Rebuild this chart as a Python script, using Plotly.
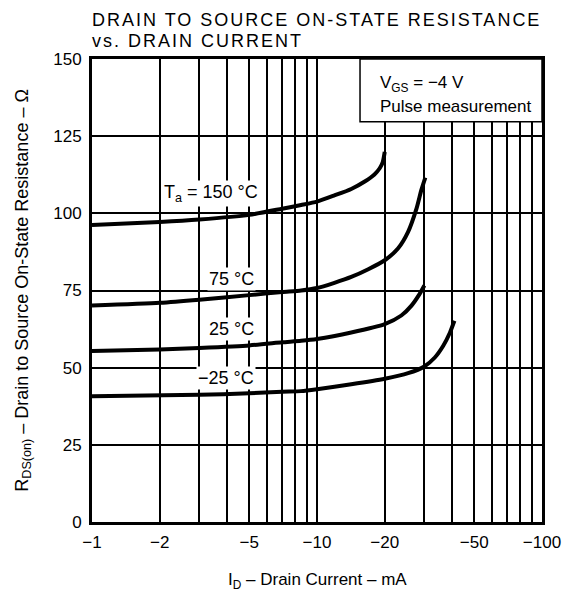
import plotly.graph_objects as go

# ---- data ----
id_150 = [1, 2, 3, 5, 7, 8.5, 10, 11.95, 14.2, 16.3, 18.0, 19.0, 19.6, 20]
r_150 = [96.2, 97.2, 98.0, 99.5, 101.5, 102.7, 103.8, 105.8, 107.9, 110.3, 112.6, 114.6, 116.6, 119.9]

id_75 = [1, 2, 3, 5, 7, 8.5, 10, 11.95, 14.2, 16.9, 20, 22.9, 25.4, 27.7, 29.1, 30.3]
r_75 = [70.1, 71.0, 72.0, 73.5, 74.5, 75.0, 75.8, 77.5, 79.4, 81.9, 84.8, 88.6, 94.0, 101.6, 107.6, 111.6]

id_25 = [1, 2, 3, 5, 7, 8.5, 10, 14.2, 20, 23.7, 26.3, 28.6, 30]
r_25 = [55.4, 55.9, 56.4, 57.2, 58.2, 58.7, 59.3, 61.4, 64.1, 66.9, 70.1, 73.9, 76.6]

id_m25 = [1, 3, 5, 7, 8.5, 10, 14.2, 20, 25.4, 30, 33.4, 36.4, 39, 40.8]
r_m25 = [40.7, 41.2, 41.7, 42.2, 42.4, 43.0, 44.6, 46.4, 48.2, 50.4, 53.3, 57.1, 61.4, 65.2]

x_tickvals = [1, 2, 3, 4, 5, 6, 7, 8, 9, 10, 20, 30, 40, 50, 60, 70, 80, 90, 100]
x_ticktext = ["−1", "−2", "", "", "−5", "", "", "", "", "−10", "−20", "", "",
              "−50", "", "", "", "", "−100"]
y_tickvals = [0, 25, 50, 75, 100, 125, 150]

FONT = "Liberation Sans, Arial, sans-serif"

fig = go.Figure()
for xs, ys in [(id_150, r_150), (id_75, r_75), (id_25, r_25), (id_m25, r_m25)]:
    fig.add_trace(go.Scatter(x=xs, y=ys, mode="lines",
                             line=dict(color="black", width=4, shape="spline", smoothing=0.6),
                             showlegend=False, hoverinfo="skip"))

# the page body has an 8px margin, so the figure is 8px smaller
fig.update_layout(
    width=567, height=589,
    margin=dict(l=84, r=33, t=51, b=75),
    paper_bgcolor="white", plot_bgcolor="white",
    font=dict(family=FONT, color="black", size=17),
    showlegend=False,
)

fig.update_xaxes(
    type="log", range=[0, 2],
    tickmode="array", tickvals=x_tickvals, ticktext=x_ticktext,
    showgrid=True, gridcolor="black", gridwidth=1.5,
    showline=True, linecolor="black", linewidth=3, mirror=True,
    ticks="", ticklabelstandoff=3, tickfont=dict(size=17),
    zeroline=False,
)
fig.update_yaxes(
    range=[0, 150],
    tickmode="array", tickvals=y_tickvals,
    showgrid=True, gridcolor="black", gridwidth=1.5,
    showline=True, linecolor="black", linewidth=3, mirror=True,
    ticks="", ticklabelstandoff=4, tickfont=dict(size=17),
    zeroline=False,
)

# condition box
fig.add_shape(type="rect", xref="paper", yref="paper",
              x0=0.5956, x1=1.0, y0=0.8644, y1=1.0,
              fillcolor="white", line=dict(color="black", width=1.5), layer="above")
fig.add_annotation(xref="paper", yref="paper", x=0.636, y=0.946,
                   xanchor="left", yanchor="middle", showarrow=False,
                   text="V<sub>GS</sub> = −4 V", font=dict(size=17))
fig.add_annotation(xref="paper", yref="paper", x=0.636, y=0.898,
                   xanchor="left", yanchor="middle", showarrow=False,
                   text="Pulse measurement", font=dict(size=17))

# curve labels
labels = [
    ("T<sub>a</sub> = 150 °C", 0.529, 106.3),
    ("75 °C", 0.622, 78.6),
    ("25 °C", 0.618, 62.4),
    ("−25 °C", 0.596, 46.6),
]
for txt, lx, ly in labels:
    fig.add_annotation(x=lx, y=ly, xref="x", yref="y", text=txt, showarrow=False,
                       bgcolor="white", borderpad=1, font=dict(size=18))

# title (two lines)
fig.add_annotation(xref="paper", yref="paper", x=-0.0044, y=1.0842,
                   xanchor="left", yanchor="middle", showarrow=False,
                   text='<span style="letter-spacing:2px">DRAIN TO SOURCE ON-STATE RESISTANCE</span>',
                   font=dict(size=18))
fig.add_annotation(xref="paper", yref="paper", x=-0.0044, y=1.0389,
                   xanchor="left", yanchor="middle", showarrow=False,
                   text='<span style="letter-spacing:2px">vs. DRAIN CURRENT</span>',
                   font=dict(size=18))

# axis titles
fig.add_annotation(xref="paper", yref="paper", x=0.5, y=-0.128,
                   xanchor="center", yanchor="middle", showarrow=False,
                   text="I<sub>D</sub> – Drain Current – mA", font=dict(size=17))
fig.add_annotation(xref="paper", yref="paper", x=-0.153, y=0.5,
                   xanchor="center", yanchor="middle", showarrow=False, textangle=-90,
                   text="R<sub>DS(on)</sub> – Drain to Source On-State Resistance – Ω",
                   font=dict(size=18))

fig.write_html("out.html")
